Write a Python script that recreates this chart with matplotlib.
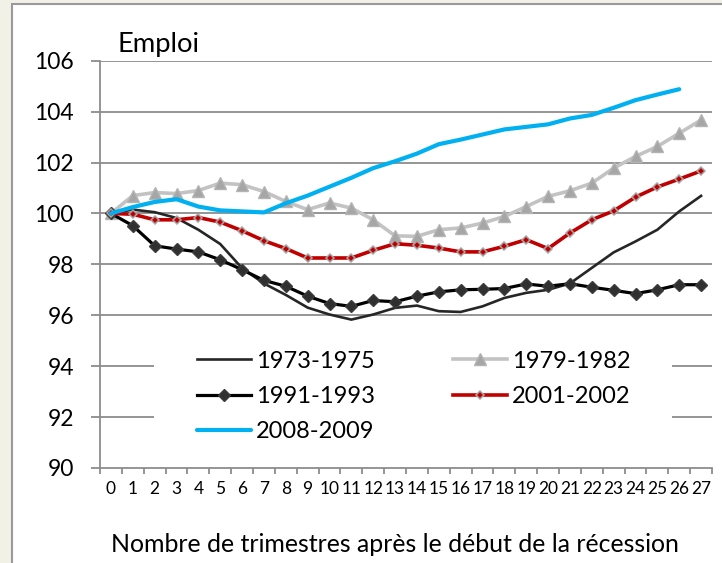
import matplotlib
matplotlib.use("Agg")
import matplotlib.pyplot as plt
from matplotlib.patches import Rectangle

plt.rcParams['font.family'] = ['Lato', 'DejaVu Sans']

# Emploi, indice 100 au début de la récession
quarters = list(range(28))
emp_1973 = [100, 100.15, 100.05, 99.82, 99.36, 98.8, 97.85, 97.25, 96.8, 96.3,
            96.03, 95.83, 96.03, 96.29, 96.38, 96.16, 96.13, 96.35, 96.68, 96.88,
            97.0, 97.25, 97.86, 98.47, 98.9, 99.36, 100.08, 100.69]
emp_1979 = [100, 100.7, 100.82, 100.78, 100.9, 101.19, 101.13, 100.86, 100.47, 100.15,
            100.41, 100.21, 99.75, 99.12, 99.1, 99.36, 99.43, 99.62, 99.88, 100.27,
            100.67, 100.89, 101.19, 101.78, 102.24, 102.63, 103.15, 103.67]
emp_1991 = [100, 99.52, 98.73, 98.6, 98.49, 98.18, 97.79, 97.37, 97.14, 96.75,
            96.46, 96.35, 96.58, 96.53, 96.75, 96.92, 97.0, 97.02, 97.05, 97.23,
            97.14, 97.24, 97.1, 96.98, 96.85, 97.0, 97.2, 97.2]
emp_2001 = [100, 99.97, 99.75, 99.75, 99.84, 99.66, 99.32, 98.93, 98.62, 98.25,
            98.25, 98.25, 98.55, 98.81, 98.75, 98.64, 98.49, 98.49, 98.71, 98.97,
            98.62, 99.23, 99.75, 100.1, 100.64, 101.04, 101.35, 101.67]
emp_2008 = [100, 100.25, 100.45, 100.56, 100.27, 100.12, 100.08, 100.04, 100.4, 100.7,
            101.05, 101.4, 101.78, 102.05, 102.35, 102.72, 102.9, 103.1, 103.3, 103.4,
            103.5, 103.73, 103.87, 104.15, 104.45, 104.67, 104.88]
y_ticks = [90, 92, 94, 96, 98, 100, 102, 104, 106]

fig = plt.figure(figsize=(7.22, 5.63), dpi=100)
fig.patch.set_facecolor('#f1f1e8')
fig.patches.append(Rectangle((12 / 722, -0.1), 1.2, 1 - 4 / 563 + 0.1,
                             transform=fig.transFigure, facecolor='white',
                             edgecolor='#9a9a9a', lw=1.5, zorder=-5))

ax = fig.add_axes([100 / 722, 1 - 468 / 563, 612 / 722, 407.3 / 563])
ax.set_facecolor('none')

grid_c = '#8c8c8c'
for v in y_ticks[1:]:
    ax.axhline(v, color=grid_c, lw=1.3, zorder=1)

ax.plot(quarters, emp_1973, color='#262626', lw=1.9, zorder=3, label='1973-1975')
ax.plot(quarters, emp_1979, color='#c3c3c3', lw=2.6, marker='^', ms=8,
        mfc='#a6a6a6', mec='#b4b4b4', zorder=3, label='1979-1982')
ax.plot(quarters, emp_1991, color='black', lw=2.3, marker='D', ms=5.8,
        mfc='#303030', mec='#3c3c3c', zorder=4, label='1991-1993')
ax.plot(quarters, emp_2001, color='#c00000', lw=2.6, marker='D', ms=4.2,
        mfc='#c00000', mec='#a6a6a6', mew=1.1, zorder=5, label='2001-2002')
ax.plot(quarters[:len(emp_2008)], emp_2008, color='#00b0f0', lw=3.0,
        solid_capstyle='round', zorder=6, label='2008-2009')

ax.set_xlim(-0.5, 27.5)
ax.set_ylim(90, 106)
ax.set_yticks(y_ticks)
ax.tick_params(axis='y', length=6.5, width=1.3, color=grid_c, pad=12.2, labelsize=16.5)
ax.set_xticks(quarters)
ax.set_xticklabels([str(q) for q in quarters])
ax.set_xticks([q - 0.5 for q in quarters] + [27.5], minor=True)
ax.tick_params(axis='x', which='major', length=0, pad=9.4, labelsize=12.5)
ax.tick_params(axis='x', which='minor', length=4.3, width=1.3, color=grid_c)
for s in ['top', 'right']:
    ax.spines[s].set_visible(False)
for s in ['left', 'bottom']:
    ax.spines[s].set_color(grid_c)
    ax.spines[s].set_linewidth(1.3)

# fond blanc derrière la légende
ax.add_patch(Rectangle((0.088, 0.032), 0.847, 0.295, transform=ax.transAxes,
                       facecolor='white', edgecolor='none', zorder=2))
h, l = ax.get_legend_handles_labels()
order = [0, 2, 4, 1, 3]
ax.legend([h[i] for i in order], [l[i] for i in order], ncol=2,
          loc='upper left', bbox_to_anchor=(0.1585, 0.288), frameon=False,
          borderpad=0, fontsize=17, handlelength=2.3, handletextpad=0.2,
          columnspacing=3.3, labelspacing=0.6, borderaxespad=0)

fig.text(118 / 722, 1 - 52 / 563, 'Emploi', fontsize=19.7, va='baseline')
fig.text(395 / 722, 1 - 552 / 563, 'Nombre de trimestres après le début de la récession',
         fontsize=17.9, ha='center', va='baseline')

fig.savefig('out.png', dpi=100, facecolor=fig.get_facecolor())
